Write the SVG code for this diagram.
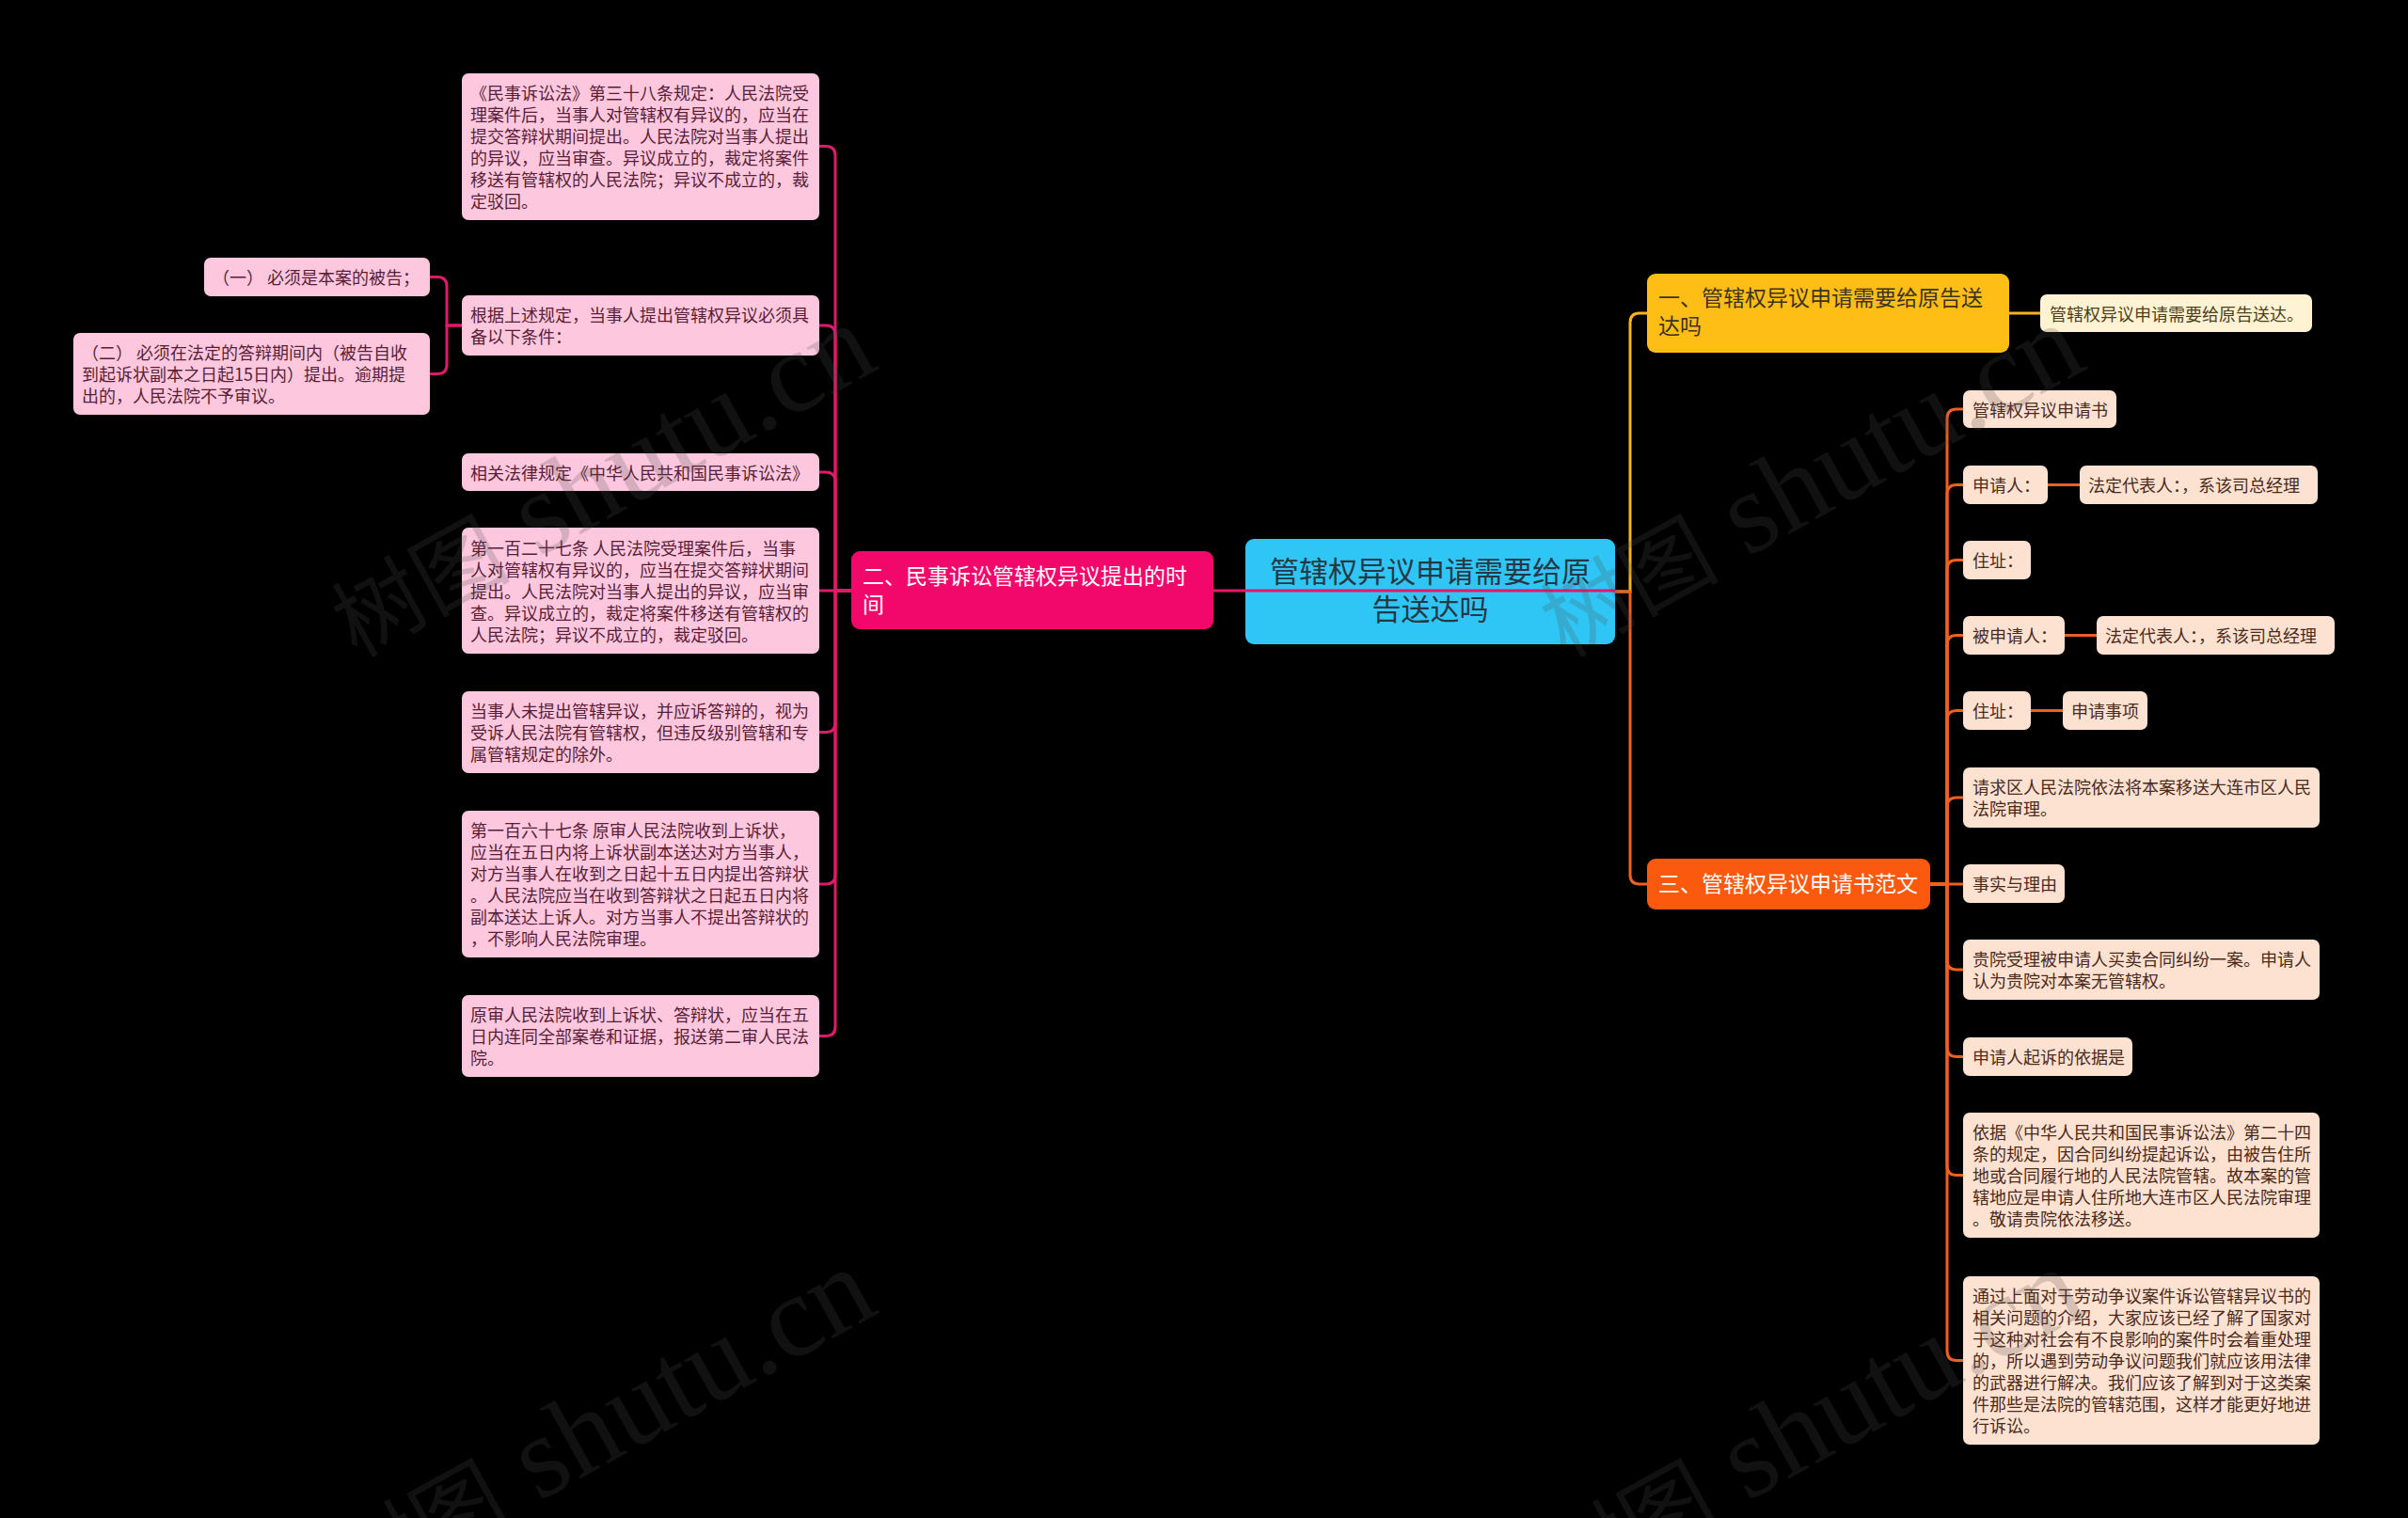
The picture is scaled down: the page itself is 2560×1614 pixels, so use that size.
<svg xmlns="http://www.w3.org/2000/svg" width="2560" height="1614" viewBox="0 0 2560 1614">
<style>
text{font-family:"Noto Sans CJK SC","Noto Sans",sans-serif}
.lf rect{fill:#fdc8de}
.lf text{fill:#5a1d36;font-size:18px}
.rf rect{fill:#fde1d1}
.rf text{fill:#4b2a1a;font-size:18px}
.yf rect{fill:#fff3d3}
.yf text{fill:#4d3f1a;font-size:18px}
.mn text{font-size:23px}
.c path{fill:none;stroke-width:3}
.pk{stroke:#e01a6a}
.og{stroke:#ef6121}
.yl{stroke:#f4b41a}
.wm{font-family:"Liberation Serif","Noto Sans CJK SC",serif;font-size:124px;fill:#4d4d4d;fill-opacity:0.22}
.wm .cj{font-size:95px}
</style>
<rect x="0" y="0" width="2560" height="1614" fill="#000"/>

<g id="center">
<rect x="1324" y="573" width="393" height="112" rx="9" fill="#2fc6f5"/>
<text x="1520.5" y="619" font-size="31" fill="#263845" text-anchor="middle">管辖权异议申请需要给原<tspan x="1520.5" dy="40">告送达吗</tspan></text>
</g>

<g id="main-left" class="mn">
<rect x="905" y="586" width="385" height="83" rx="9" fill="#f2086b"/>
<text x="917" y="621" fill="#ffffff">二、民事诉讼管辖权异议提出的时<tspan x="917" dy="30">间</tspan></text>
</g>

<g id="main-1" class="mn">
<rect x="1751" y="291" width="385" height="84" rx="9" fill="#ffbe16"/>
<text x="1763" y="325" fill="#3d3323">一、管辖权异议申请需要给原告送<tspan x="1763" dy="30">达吗</tspan></text>
</g>

<g id="main-3" class="mn">
<rect x="1751" y="913" width="301" height="54" rx="9" fill="#fb5a0e"/>
<text x="1763" y="948" fill="#ffffff">三、管辖权异议申请书范文</text>
</g>

<g id="l1" class="lf">
<rect x="491" y="78" width="380" height="156" rx="7"/>
<text x="500" y="106">《民事诉讼法》第三十八条规定：人民法院受<tspan x="500" dy="23">理案件后，当事人对管辖权有异议的，应当在</tspan><tspan x="500" dy="23">提交答辩状期间提出。人民法院对当事人提出</tspan><tspan x="500" dy="23">的异议，应当审查。异议成立的，裁定将案件</tspan><tspan x="500" dy="23">移送有管辖权的人民法院；异议不成立的，裁</tspan><tspan x="500" dy="23">定驳回。</tspan></text>
</g>

<g id="l2" class="lf">
<rect x="491" y="314" width="380" height="64" rx="7"/>
<text x="500" y="342">根据上述规定，当事人提出管辖权异议必须具<tspan x="500" dy="23">备以下条件：</tspan></text>
</g>

<g id="l2a" class="lf">
<rect x="217" y="274" width="240" height="41" rx="7"/>
<text x="226" y="302">（一） 必须是本案的被告；</text>
</g>

<g id="l2b" class="lf">
<rect x="78" y="354" width="379" height="87" rx="7"/>
<text x="87" y="382">（二） 必须在法定的答辩期间内（被告自收<tspan x="87" dy="23">到起诉状副本之日起15日内）提出。逾期提</tspan><tspan x="87" dy="23">出的，人民法院不予审议。</tspan></text>
</g>

<g id="l3" class="lf">
<rect x="491" y="482" width="380" height="40" rx="7"/>
<text x="500" y="510">相关法律规定《中华人民共和国民事诉讼法》</text>
</g>

<g id="l4" class="lf">
<rect x="491" y="561" width="380" height="134" rx="7"/>
<text x="500" y="590">第一百二十七条 人民法院受理案件后，当事<tspan x="500" dy="23">人对管辖权有异议的，应当在提交答辩状期间</tspan><tspan x="500" dy="23">提出。人民法院对当事人提出的异议，应当审</tspan><tspan x="500" dy="23">查。异议成立的，裁定将案件移送有管辖权的</tspan><tspan x="500" dy="23">人民法院；异议不成立的，裁定驳回。</tspan></text>
</g>

<g id="l5" class="lf">
<rect x="491" y="735" width="380" height="87" rx="7"/>
<text x="500" y="763">当事人未提出管辖异议，并应诉答辩的，视为<tspan x="500" dy="23">受诉人民法院有管辖权，但违反级别管辖和专</tspan><tspan x="500" dy="23">属管辖规定的除外。</tspan></text>
</g>

<g id="l6" class="lf">
<rect x="491" y="862" width="380" height="156" rx="7"/>
<text x="500" y="890">第一百六十七条 原审人民法院收到上诉状，<tspan x="500" dy="23">应当在五日内将上诉状副本送达对方当事人，</tspan><tspan x="500" dy="23">对方当事人在收到之日起十五日内提出答辩状</tspan><tspan x="500" dy="23">。人民法院应当在收到答辩状之日起五日内将</tspan><tspan x="500" dy="23">副本送达上诉人。对方当事人不提出答辩状的</tspan><tspan x="500" dy="23">，不影响人民法院审理。</tspan></text>
</g>

<g id="l7" class="lf">
<rect x="491" y="1058" width="380" height="87" rx="7"/>
<text x="500" y="1086">原审人民法院收到上诉状、答辩状，应当在五<tspan x="500" dy="23">日内连同全部案卷和证据，报送第二审人民法</tspan><tspan x="500" dy="23">院。</tspan></text>
</g>

<g id="y1" class="yf">
<rect x="2169" y="313" width="289" height="40" rx="7"/>
<text x="2179" y="341">管辖权异议申请需要给原告送达。</text>
</g>

<g id="r1" class="rf">
<rect x="2087" y="415" width="163" height="40" rx="7"/>
<text x="2097" y="443">管辖权异议申请书</text>
</g>
<g id="r2" class="rf">
<rect x="2087" y="495" width="90" height="41" rx="7"/>
<text x="2097" y="523">申请人：</text>
</g>
<g id="r2b" class="rf">
<rect x="2211" y="495" width="253" height="41" rx="7"/>
<text x="2220" y="523">法定代表人：，系该司总经理</text>
</g>
<g id="r3" class="rf">
<rect x="2087" y="575" width="72" height="41" rx="7"/>
<text x="2097" y="603">住址：</text>
</g>
<g id="r4" class="rf">
<rect x="2087" y="655" width="108" height="41" rx="7"/>
<text x="2097" y="683">被申请人：</text>
</g>
<g id="r4b" class="rf">
<rect x="2229" y="655" width="253" height="41" rx="7"/>
<text x="2238" y="683">法定代表人：，系该司总经理</text>
</g>
<g id="r5" class="rf">
<rect x="2087" y="735" width="72" height="41" rx="7"/>
<text x="2097" y="763">住址：</text>
</g>
<g id="r5b" class="rf">
<rect x="2193" y="735" width="90" height="41" rx="7"/>
<text x="2202" y="763">申请事项</text>
</g>
<g id="r6" class="rf">
<rect x="2087" y="816" width="379" height="64" rx="7"/>
<text x="2097" y="844">请求区人民法院依法将本案移送大连市区人民<tspan x="2097" dy="23">法院审理。</tspan></text>
</g>
<g id="r7" class="rf">
<rect x="2087" y="919" width="108" height="41" rx="7"/>
<text x="2097" y="947">事实与理由</text>
</g>
<g id="r8" class="rf">
<rect x="2087" y="999" width="379" height="64" rx="7"/>
<text x="2097" y="1027">贵院受理被申请人买卖合同纠纷一案。申请人<tspan x="2097" dy="23">认为贵院对本案无管辖权。</tspan></text>
</g>
<g id="r9" class="rf">
<rect x="2087" y="1103" width="180" height="41" rx="7"/>
<text x="2097" y="1131">申请人起诉的依据是</text>
</g>
<g id="r10" class="rf">
<rect x="2087" y="1183" width="379" height="133" rx="7"/>
<text x="2097" y="1211">依据《中华人民共和国民事诉讼法》第二十四<tspan x="2097" dy="23">条的规定，因合同纠纷提起诉讼，由被告住所</tspan><tspan x="2097" dy="23">地或合同履行地的人民法院管辖。故本案的管</tspan><tspan x="2097" dy="23">辖地应是申请人住所地大连市区人民法院审理</tspan><tspan x="2097" dy="23">。敬请贵院依法移送。</tspan></text>
</g>
<g id="r11" class="rf">
<rect x="2087" y="1357" width="379" height="179" rx="7"/>
<text x="2097" y="1385">通过上面对于劳动争议案件诉讼管辖异议书的<tspan x="2097" dy="23">相关问题的介绍，大家应该已经了解了国家对</tspan><tspan x="2097" dy="23">于这种对社会有不良影响的案件时会着重处理</tspan><tspan x="2097" dy="23">的，所以遇到劳动争议问题我们就应该用法律</tspan><tspan x="2097" dy="23">的武器进行解决。我们应该了解到对于这类案</tspan><tspan x="2097" dy="23">件那些是法院的管辖范围，这样才能更好地进</tspan><tspan x="2097" dy="23">行诉讼。</tspan></text>
</g>

<g id="connectors" class="c">
<path class="pk" d="M1717,628 H1290"/>
<path class="pk" d="M905,628 H888 V165.5 Q888,155.5 878,155.5 H871"/>
<path class="pk" d="M905,628 H888 V356 Q888,346 878,346 H871"/>
<path class="pk" d="M905,628 H888 V512 Q888,502 878,502 H871"/>
<path class="pk" d="M905,628 H871"/>
<path class="pk" d="M905,628 H888 V768.5 Q888,778.5 878,778.5 H871"/>
<path class="pk" d="M905,628 H888 V930 Q888,940 878,940 H871"/>
<path class="pk" d="M905,628 H888 V1091.5 Q888,1101.5 878,1101.5 H871"/>
<path class="pk" d="M491,346 H475 V304.5 Q475,294.5 465,294.5 H457"/>
<path class="pk" d="M491,346 H475 V387.5 Q475,397.5 465,397.5 H457"/>
<path class="yl" d="M1717,629 H1733 V343 Q1733,333 1743,333 H1751"/>
<path class="og" d="M1717,629 H1733 V930 Q1733,940 1743,940 H1751"/>
<path class="yl" d="M2136,333 H2169"/>
<path class="og" d="M2052,940 H2070 V445 Q2070,435 2080,435 H2087"/>
<path class="og" d="M2052,940 H2070 V525.5 Q2070,515.5 2080,515.5 H2087"/>
<path class="og" d="M2052,940 H2070 V605.5 Q2070,595.5 2080,595.5 H2087"/>
<path class="og" d="M2052,940 H2070 V685.5 Q2070,675.5 2080,675.5 H2087"/>
<path class="og" d="M2052,940 H2070 V765.5 Q2070,755.5 2080,755.5 H2087"/>
<path class="og" d="M2052,940 H2070 V858 Q2070,848 2080,848 H2087"/>
<path class="og" d="M2052,940 H2087"/>
<path class="og" d="M2052,940 H2070 V1021 Q2070,1031 2080,1031 H2087"/>
<path class="og" d="M2052,940 H2070 V1113.5 Q2070,1123.5 2080,1123.5 H2087"/>
<path class="og" d="M2052,940 H2070 V1239.5 Q2070,1249.5 2080,1249.5 H2087"/>
<path class="og" d="M2052,940 H2070 V1436.5 Q2070,1446.5 2080,1446.5 H2087"/>
<path class="og" d="M2177,515.5 H2211"/>
<path class="og" d="M2195,675.5 H2229"/>
<path class="og" d="M2159,755.5 H2193"/>
</g>

<g id="watermark">
<text class="wm" x="379" y="700" transform="rotate(-29 379 700)"><tspan class="cj">树图</tspan> shutu.cn</text>
<text class="wm" x="1664" y="700" transform="rotate(-29 1664 700)"><tspan class="cj">树图</tspan> shutu.cn</text>
<text class="wm" x="379" y="1704" transform="rotate(-29 379 1704)"><tspan class="cj">树图</tspan> shutu.cn</text>
<text class="wm" x="1664" y="1704" transform="rotate(-29 1664 1704)"><tspan class="cj">树图</tspan> shutu.cn</text>
</g>
</svg>
